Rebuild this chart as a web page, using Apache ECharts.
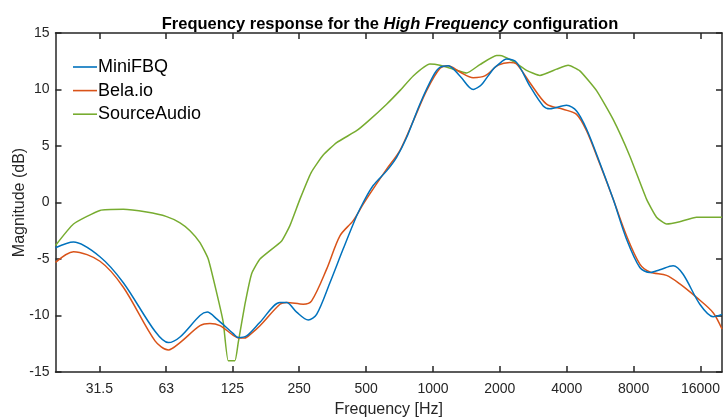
<!DOCTYPE html>
<html>
<head>
<meta charset="utf-8">
<script src="https://cdn.jsdelivr.net/npm/echarts@6/dist/echarts.min.js"></script>
<style>
html,body{margin:0;padding:0;background:#fff;}
#chart{width:723px;height:417px;}
</style>
</head>
<body>
<div id="chart"></div>
<script>
// Tick labels (Hz) and y ticks
const freqTicks = [31.5, 63, 125, 250, 500, 1000, 2000, 4000, 8000, 16000];
const seriesNames = ['MiniFBQ', 'Bela.io', 'SourceAudio'];

// [frequency Hz, magnitude dB]
const miniFBQ = [
  [20,-4.0],[24.1,-3.5],[31.7,-4.8],[40.4,-7.1],[56.1,-11.4],[64.4,-12.4],[72.7,-11.9],
  [89.4,-10.0],[96.4,-9.7],[106.3,-10.3],[126.2,-11.6],[132.9,-11.95],[145,-11.8],
  [166.5,-10.6],[204.8,-8.85],[219.5,-8.85],[243.4,-9.7],[274.6,-10.4],[299.5,-9.9],
  [343.8,-7.1],[394.6,-4.1],[453.2,-1.2],[485.4,0],[538.2,1.5],[618.6,2.8],[686,4.0],
  [761,5.75],[873,8.7],[1003,11.2],[1074,11.95],[1171,12.1],[1322,11.2],[1517,10.0],
  [1626,10.3],[1683,10.6],[1866,11.8],[1966,12.2],[2144,12.7],[2379,12.4],[2731,10.3],
  [3135,8.55],[3360,8.3],[3993,8.6],[4430,8.1],[4912,6.5],[5639,3.5],[6472,0.3],
  [7436,-3.25],[8535,-5.75],[9469,-6.2],[10500,-5.95],[12054,-5.6],[13366,-6.35],
  [15893,-9.0],[18245,-10.1],[20000,-9.9]
];
const belaIO = [
  [20,-5.3],[24.1,-4.35],[31.7,-5.2],[40.4,-7.5],[56.1,-12.25],[64.4,-13.05],[72.7,-12.4],
  [89.4,-10.9],[99.1,-10.7],[110,-10.9],[126.2,-11.75],[135.3,-12.0],[142,-12.0],
  [152,-11.6],[166.5,-10.9],[204.8,-9.0],[219.5,-8.85],[260.7,-9.0],[284.4,-8.7],
  [332.2,-5.9],[381.3,-2.95],[437.5,-1.6],[485.4,-0.15],[538.2,1.2],[618.6,2.95],
  [709.8,4.6],[814.9,7.2],[936.3,9.9],[1074,11.85],[1171,12.1],[1322,11.55],[1517,11.05],
  [1712,11.2],[1966,12.15],[2219,12.4],[2379,12.25],[2731,10.6],[3246,8.7],[3856,8.25],
  [4430,7.8],[4912,6.35],[5639,3.4],[6472,0.3],[7436,-2.95],[8535,-5.45],[9469,-6.15],
  [11254,-6.45],[12918,-7.2],[15361,-8.4],[18245,-9.75],[20000,-11.2]
];
const sourceAudio = [
  [20,-3.8],[24.1,-1.9],[31.7,-0.7],[40.4,-0.6],[51.4,-0.85],[63.3,-1.25],[72.7,-1.8],
  [80.6,-2.5],[89.4,-3.55],[97.4,-5.0],[106.3,-8.0],[113.8,-10.6],[119.8,-14.0],
  [128.4,-14.0],[132.9,-12.4],[142.5,-9.0],[152.7,-6.3],[166.5,-5.0],[208.4,-3.4],
  [227,-2.05],[252,0.3],[283,2.65],[320.7,4.2],[368.5,5.3],[453,6.35],[511,7.2],
  [618.6,8.7],[709.8,9.9],[814.9,11.2],[968.8,12.25],[1074,12.15],[1233,11.8],[1417,11.45],
  [1626,12.2],[1933,13.0],[2001,13.0],[2296,12.5],[2638,11.7],[3029,11.25],[3601,11.8],
  [4060,12.15],[4583,11.65],[5450,9.9],[6472,7.35],[7697,4.1],[9147,0.3],[10149,-1.3],
  [11254,-1.9],[12918,-1.7],[15361,-1.3],[20000,-1.3]
];

const colors = ['#0072BD', '#D95319', '#77AC30'];
const axisColor = '#262626';
const font = '"Liberation Sans", Arial, Helvetica, sans-serif';

const chart = echarts.init(document.getElementById('chart'));

function xAxisDef(pos, showLabel) {
  return {
    type: 'log', logBase: 10, min: 20, max: 20000, position: pos,
    axisLine: { show: true, onZero: false, lineStyle: { color: axisColor, width: 1.5 } },
    axisTick: { show: true, inside: true, length: 6, customValues: freqTicks,
      lineStyle: { color: axisColor, width: 1.5 } },
    axisLabel: { show: showLabel, customValues: freqTicks, margin: 10,
      fontFamily: font, fontSize: 14, color: axisColor,
      formatter: v => String(v) },
    splitLine: { show: false }, minorTick: { show: false },
    name: showLabel ? 'Frequency [Hz]' : '', nameLocation: 'middle', nameGap: 30,
    nameTextStyle: { fontFamily: font, fontSize: 16, color: axisColor }
  };
}
function yAxisDef(pos, showLabel) {
  return {
    type: 'value', min: -15, max: 15, interval: 5, position: pos,
    axisLine: { show: true, onZero: false, lineStyle: { color: axisColor, width: 1.5 } },
    axisTick: { show: true, inside: true, length: 6, lineStyle: { color: axisColor, width: 1.5 } },
    axisLabel: { show: showLabel, margin: 6, fontFamily: font, fontSize: 14, color: axisColor },
    splitLine: { show: false },
    name: showLabel ? 'Magnitude (dB)' : '', nameLocation: 'middle', nameGap: 28,
    nameMoveOverlap: false,
    nameTextStyle: { fontFamily: font, fontSize: 16, color: axisColor }
  };
}

const datasets = [miniFBQ, belaIO, sourceAudio];

chart.setOption({
  animation: false,
  backgroundColor: '#fff',
  title: {
    text: '{b|Frequency response for the }{i|High Frequency}{b| configuration}',
    left: 385, top: 11, textAlign: 'center',
    textStyle: {
      rich: {
        b: { fontFamily: font, fontSize: 16.5, fontWeight: 'bold', color: '#000' },
        i: { fontFamily: font, fontSize: 16.5, fontWeight: 'bold', fontStyle: 'italic', color: '#000' }
      }
    }
  },
  legend: {
    data: seriesNames, orient: 'vertical', left: 73, top: 57, padding: 0,
    icon: 'rect', itemWidth: 24, itemHeight: 1.6, itemGap: 3.6,
    textStyle: { fontFamily: font, fontSize: 18, color: '#000', lineHeight: 20, padding: [0, 0, 0, -4] }
  },
  grid: { left: 55.5, right: 1, top: 33, bottom: 45, containLabel: false, outerBoundsMode: 'none' },
  xAxis: [xAxisDef('bottom', true), xAxisDef('top', false)],
  yAxis: [yAxisDef('left', true), yAxisDef('right', false)],
  series: seriesNames.map((n, i) => ({
    name: n, type: 'line', data: datasets[i], xAxisIndex: 0, yAxisIndex: 0,
    showSymbol: false, symbol: 'none', smooth: i === 2 ? 0.15 : 0.3,
    lineStyle: { color: colors[i], width: 1.5 }, itemStyle: { color: colors[i] },
    z: 3 - i
  }))
});
</script>
</body>
</html>
